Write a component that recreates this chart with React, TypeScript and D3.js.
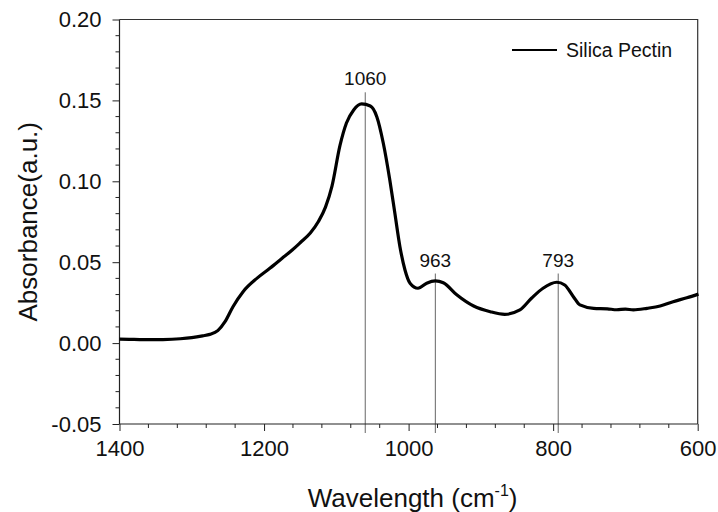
import React, { useEffect, useRef } from 'react';
import * as d3 from 'd3';

// spectrum (wavenumber in cm-1, absorbance)
const wavenumbers = [
  1400, 1380, 1360, 1340, 1316, 1300, 1285, 1275, 1264, 1254, 1243, 1229, 1210, 1192, 1175, 1161,
  1150, 1136, 1125, 1115, 1106, 1095, 1086, 1076, 1065, 1053, 1044, 1035, 1026, 1019, 1012, 1005,
  998, 987, 975, 963, 952, 933, 910, 887, 867, 846, 830, 814, 795, 784, 772, 763, 744, 725, 712,
  700, 689, 670, 652, 634, 615, 599,
];
const absorbance = [
  0.0024, 0.0023, 0.0021, 0.0022, 0.0027, 0.0034, 0.0045, 0.0054, 0.0077, 0.0132, 0.0225, 0.0318,
  0.04, 0.0462, 0.0524, 0.0575, 0.062, 0.068, 0.075, 0.084, 0.097, 0.122, 0.136, 0.1441, 0.1478,
  0.1465, 0.1399, 0.1235, 0.1008, 0.0802, 0.0596, 0.0452, 0.037, 0.0339, 0.037, 0.0384, 0.0373,
  0.0297, 0.0229, 0.0194, 0.0178, 0.0205, 0.0277, 0.0339, 0.0376, 0.0359, 0.0287, 0.0236, 0.0215,
  0.0212, 0.0206, 0.021, 0.0205, 0.0215, 0.0229, 0.0256, 0.028, 0.0303,
];

// peak markers: position, label and where the marker line starts
const peakPositions = [1060, 963, 793];
const peakLabels = ['1060', '963', '793'];
const peakTops = [0.155, 0.043, 0.043];

const xTicks = [1400, 1200, 1000, 800, 600];
const yTicks = [-0.05, 0.0, 0.05, 0.1, 0.15, 0.2];

const seriesName = 'Silica Pectin';

const WIDTH = 718;
const HEIGHT = 512;
const margin = { top: 19.5, right: 20.3, bottom: 88, left: 119.5 };
const FONT = 'Arial, "Liberation Sans", sans-serif';

export default function App() {
  const root = useRef<SVGSVGElement | null>(null);

  useEffect(() => {
    const svg = d3.select(root.current);
    svg.selectAll('*').remove();

    const x = d3.scaleLinear()
      .domain([1400, 600])
      .range([margin.left, WIDTH - margin.right]);
    const y = d3.scaleLinear()
      .domain([-0.05, 0.2])
      .range([HEIGHT - margin.bottom, margin.top]);

    const [x0, x1] = x.range();
    const [yb, yt] = y.range();

    // peak marker lines (drawn under the curve)
    peakPositions.forEach((p, i) => {
      svg.append('line')
        .attr('x1', x(p)).attr('x2', x(p))
        .attr('y1', y(peakTops[i])).attr('y2', yb + 9)
        .attr('stroke', '#666')
        .attr('stroke-width', 1);
      svg.append('text')
        .attr('x', x(p))
        .attr('y', y(peakTops[i]) - 7)
        .attr('text-anchor', 'middle')
        .attr('font-family', FONT)
        .attr('font-size', 19)
        .attr('fill', '#111')
        .text(peakLabels[i]);
    });

    // frame: top + right
    svg.append('path')
      .attr('d', `M${x0},${yt}H${x1}V${yb}`)
      .attr('fill', 'none')
      .attr('stroke', '#333')
      .attr('stroke-width', 1.2);

    // x axis
    const xAxis = d3.axisBottom(x)
      .tickValues(xTicks)
      .tickSize(7)
      .tickPadding(9)
      .tickFormat(d3.format('d'));
    const gx = svg.append('g')
      .attr('transform', `translate(0,${yb})`)
      .call(xAxis);
    const xMinor = d3.range(1400, 599, -40).filter((v) => !xTicks.includes(v));
    gx.selectAll('.minor')
      .data(xMinor)
      .enter().append('line')
        .attr('x1', (d) => x(d)).attr('x2', (d) => x(d))
        .attr('y1', 0).attr('y2', 4)
        .attr('stroke', '#222');

    // y axis (plain hyphen for negatives, like the original)
    const fmt = d3.format('.2f');
    const yAxis = d3.axisLeft(y)
      .tickValues(yTicks)
      .tickSize(7)
      .tickPadding(11)
      .tickFormat((d) => fmt(d as number).replace('\u2212', '-'));
    const gy = svg.append('g')
      .attr('transform', `translate(${x0},0)`)
      .call(yAxis);
    const yMinor = d3.range(-4, 20).map((k) => k / 100).filter((v) => Math.abs(v * 20 - Math.round(v * 20)) > 1e-6);
    gy.selectAll('.minor')
      .data(yMinor)
      .enter().append('line')
        .attr('x1', 0).attr('x2', -4)
        .attr('y1', (d) => y(d)).attr('y2', (d) => y(d))
        .attr('stroke', '#222');

    [gx, gy].forEach((g) => {
      g.select('.domain').attr('stroke', '#222').attr('stroke-width', 1.2);
      g.selectAll('.tick line').attr('stroke', '#222');
      g.selectAll('.tick text')
        .attr('font-family', FONT)
        .attr('font-size', 22)
        .attr('fill', '#111');
    });
    gy.select('.domain').attr('d', `M0,${yb}V${yt}`);
    gx.select('.domain').attr('d', `M${x0},0H${x1}`);

    // spectrum
    const points = wavenumbers.map((w, i) => [w, absorbance[i]] as [number, number]);
    const line = d3.line<[number, number]>()
      .x((d) => x(d[0]))
      .y((d) => y(d[1]))
      .curve(d3.curveMonotoneX);
    svg.append('path')
      .datum(points)
      .attr('d', line)
      .attr('fill', 'none')
      .attr('stroke', '#000')
      .attr('stroke-width', 3.2)
      .attr('stroke-linejoin', 'round');

    // legend
    svg.append('line')
      .attr('x1', 512).attr('x2', 557)
      .attr('y1', 50).attr('y2', 50)
      .attr('stroke', '#000')
      .attr('stroke-width', 2.2);
    svg.append('text')
      .attr('x', 566).attr('y', 57)
      .attr('font-family', FONT)
      .attr('font-size', 19.5)
      .attr('fill', '#111')
      .text(seriesName);

    // axis titles
    const xt = svg.append('text')
      .attr('x', (x0 + x1) / 2 + 4)
      .attr('y', 507)
      .attr('text-anchor', 'middle')
      .attr('font-family', FONT)
      .attr('font-size', 26)
      .attr('fill', '#111');
    xt.append('tspan').text('Wavelength (cm');
    xt.append('tspan').attr('font-size', 16).attr('dy', -11).text('-1');
    xt.append('tspan').attr('dy', 11).text(')');

    svg.append('text')
      .attr('transform', `translate(37,${(yt + yb) / 2}) rotate(-90)`)
      .attr('text-anchor', 'middle')
      .attr('font-family', FONT)
      .attr('font-size', 26)
      .attr('fill', '#111')
      .text('Absorbance(a.u.)');
  }, []);

  return (
    <svg
      ref={root}
      width={WIDTH}
      height={HEIGHT}
      style={{ position: 'absolute', left: 0, top: 0, background: '#fff' }}
    />
  );
}
